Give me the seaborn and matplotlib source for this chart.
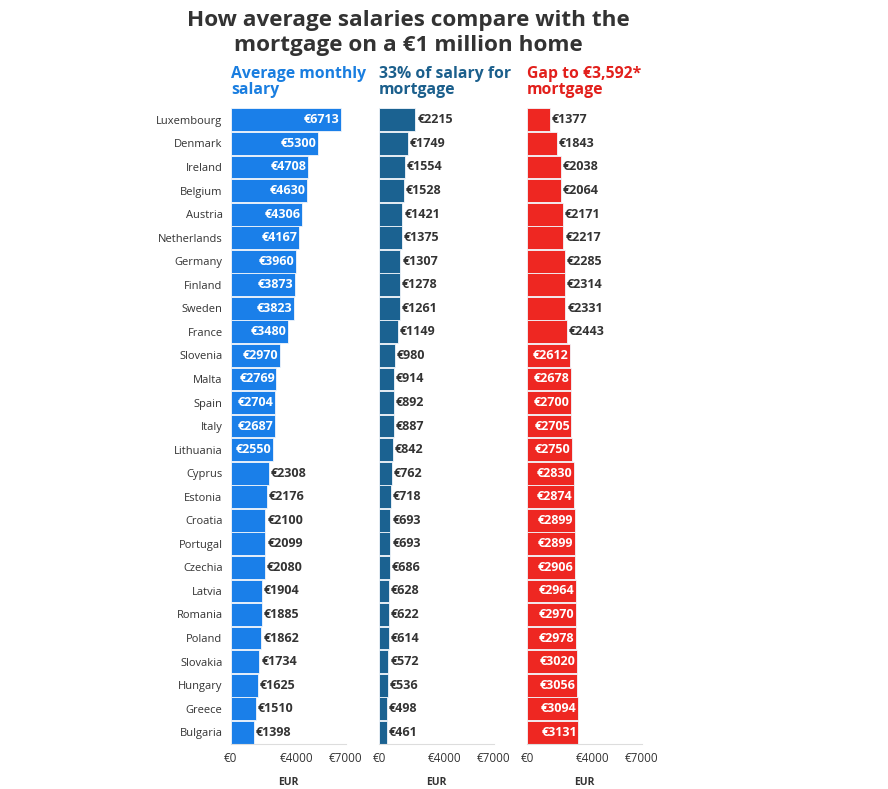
import numpy as np
import pandas as pd
import seaborn as sns
import matplotlib.pyplot as plt

countries = ["Luxembourg", "Denmark", "Ireland", "Belgium", "Austria", "Netherlands",
             "Germany", "Finland", "Sweden", "France", "Slovenia", "Malta", "Spain",
             "Italy", "Lithuania", "Cyprus", "Estonia", "Croatia", "Portugal", "Czechia",
             "Latvia", "Romania", "Poland", "Slovakia", "Hungary", "Greece", "Bulgaria"]
salary = [6713, 5300, 4708, 4630, 4306, 4167, 3960, 3873, 3823, 3480, 2970, 2769, 2704,
          2687, 2550, 2308, 2176, 2100, 2099, 2080, 1904, 1885, 1862, 1734, 1625, 1510, 1398]
mortgage_share = [2215, 1749, 1554, 1528, 1421, 1375, 1307, 1278, 1261, 1149, 980, 914, 892,
                  887, 842, 762, 718, 693, 693, 686, 628, 622, 614, 572, 536, 498, 461]
gap = [1377, 1843, 2038, 2064, 2171, 2217, 2285, 2314, 2331, 2443, 2612, 2678, 2700,
       2705, 2750, 2830, 2874, 2899, 2899, 2906, 2964, 2970, 2978, 3020, 3056, 3094, 3131]

headers = ["Average monthly\nsalary", "33% of salary for\nmortgage", "Gap to €3,592*\nmortgage"]
colors = ["#1a7fe9", "#1b6291", "#ee2722"]
head_colors = ["#1a7ee0", "#1b5f8c", "#e2201c"]

df = pd.DataFrame({"country": countries, "salary": salary,
                   "share": mortgage_share, "gap": gap})

sns.set_style("white")
plt.rcParams['font.family'] = ['Open Sans', 'DejaVu Sans']

fig = plt.figure(figsize=(8.88, 7.89), dpi=100)
lefts = [0.260, 0.4268, 0.5935]
dark = "#333333"

for i, (col, left) in enumerate(zip(["salary", "share", "gap"], lefts)):
    ax = fig.add_axes([left, 0.057, 0.1295, 0.806])
    ax.grid(axis="y", color="#e6e6e6", linewidth=0.8)
    ax.set_axisbelow(True)
    sns.barplot(data=df, x=col, y="country", color=colors[i], width=0.97,
                edgecolor="#f2f6fb", linewidth=0.6, saturation=1, ax=ax)
    ax.set_xlim(0, 7000)
    ax.set_xticks([0, 4000, 7000])
    ax.set_xticklabels(["€0", "€4000", "€7000"], fontsize=8.5, color=dark)
    ax.set_xticks(np.arange(0, 7001, 1000), minor=True)
    ax.tick_params(axis="x", which="both", length=4, color="#dddddd", pad=1.5)
    ax.set_xlabel("EUR", fontsize=7.5, fontweight="bold", color=dark, labelpad=9)
    ax.set_ylabel("")
    for s in ["top", "right", "left"]:
        ax.spines[s].set_visible(False)
    ax.spines["bottom"].set_color("#dddddd")
    if i == 0:
        ax.tick_params(axis="y", length=0, labelsize=8, labelcolor=dark, pad=6)
    else:
        ax.set_yticklabels([])
        ax.tick_params(axis="y", length=0)

    for bar, val in zip(ax.patches, df[col]):
        yc = bar.get_y() + bar.get_height() / 2
        end = bar.get_width()
        if val >= 2500:
            ax.text(end - 90, yc, f"€{val}", ha="right", va="center",
                    color="white", fontsize=9, fontweight="bold")
        else:
            ax.text(end + 110, yc, f"€{val}", ha="left", va="center",
                    color=dark, fontsize=9, fontweight="bold")

    fig.text(left, 0.876, headers[i], ha="left", va="bottom", fontsize=11.3,
             fontweight="bold", color=head_colors[i], linespacing=1.0)

fig.text(0.46, 0.958, "How average salaries compare with the\nmortgage on a €1 million home",
         ha="center", va="center", fontsize=16.2, fontweight="bold", color=dark,
         linespacing=1.22)

plt.savefig("out.png", dpi=100)
